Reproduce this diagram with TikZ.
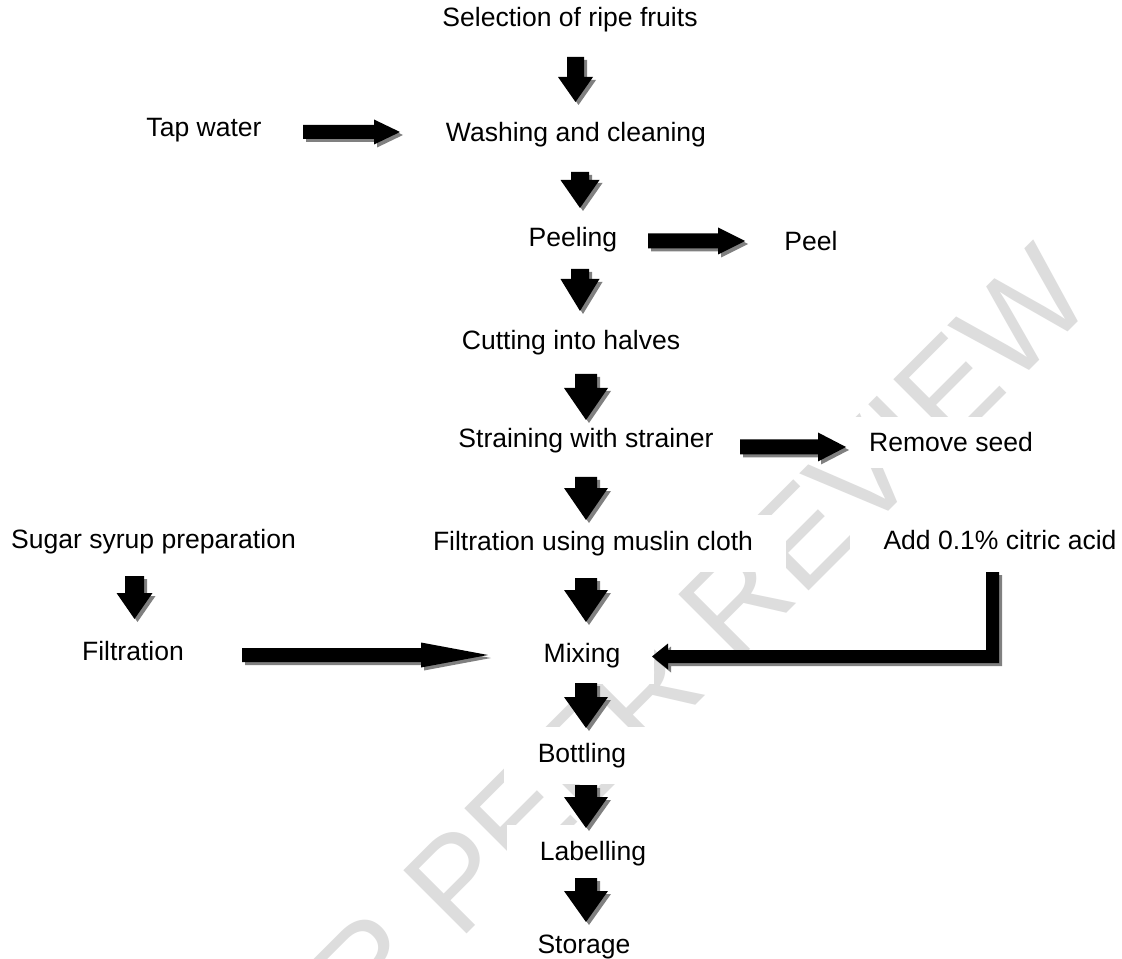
\documentclass[tikz,border=0pt]{standalone}
\usepackage{fontspec}
\setmainfont{Liberation Sans}
\definecolor{shd}{RGB}{128,128,128}
\definecolor{wm}{RGB}{221,221,221}
% block arrow polygon: #1 colour, #2 from, #3 tip, #4 shaft half, #5 head half, #6 head length, #7 ux, #8 uy, #9 offset
\newcommand\blkpoly[9]{%
 \fill[#1] ([shift={({#9-(#4)*(#8)},{#9+(#4)*(#7)})}]#2)
  -- ([shift={({#9+(#4)*(#8)},{#9-(#4)*(#7)})}]#2)
  -- ([shift={({#9-(#6)*(#7)+(#4)*(#8)},{#9-(#6)*(#8)-(#4)*(#7)})}]#3)
  -- ([shift={({#9-(#6)*(#7)+(#5)*(#8)},{#9-(#6)*(#8)-(#5)*(#7)})}]#3)
  -- ([shift={(#9,#9)}]#3)
  -- ([shift={({#9-(#6)*(#7)-(#5)*(#8)},{#9-(#6)*(#8)+(#5)*(#7)})}]#3)
  -- ([shift={({#9-(#6)*(#7)-(#4)*(#8)},{#9-(#6)*(#8)+(#4)*(#7)})}]#3)
  -- cycle;}
\newcommand\blkarrow[7]{%
 \blkpoly{shd}{#1}{#2}{#3}{#4}{#5}{#6}{#7}{3}%
 \blkpoly{black}{#1}{#2}{#3}{#4}{#5}{#6}{#7}{0}}
% elbow arrow: #1 colour, #2 offset
\newcommand\elbowpoly[2]{%
 \fill[#1] ([shift={(-6.5+#2,#2)}]cA) -- ([shift={(6.5+#2,#2)}]cA)
  -- ([shift={(6.5+#2,6.5+#2)}]cB) -- ([shift={(16+#2,6.5+#2)}]cT)
  -- ([shift={(16+#2,13+#2)}]cT) -- ([shift={(#2,#2)}]cT)
  -- ([shift={(16+#2,-13+#2)}]cT) -- ([shift={(16+#2,-6.5+#2)}]cT)
  -- ([shift={(-6.5+#2,-6.5+#2)}]cB) -- cycle;}
\begin{document}
\begin{tikzpicture}[x=0.75pt,y=-0.75pt,
  lbl/.style={font=\fontsize{19.9pt}{24pt}\selectfont, fill=white, inner xsep=25pt, inner ysep=12pt, anchor=base},
  wmtext/.style={font=\fontsize{97.5pt}{100pt}\selectfont, text=wm, rotate=45, inner sep=0pt, anchor=center}]
\useasboundingbox (0,0) rectangle (1122,959);
\clip (0,0) rectangle (1122,959);
\fill[white] (0,0) rectangle (1122,959);
% watermark
\node[wmtext] (wmk) at (637,700) {FOR PEER REVIEW};
% text nodes
\node[lbl] (sel) at (570,27) {Selection of ripe fruits};
\node[lbl] (tap) at (204,137) {Tap water};
\node[lbl] (wash) at (576,142) {Washing and cleaning};
\node[lbl] (peeling) at (573,247) {Peeling};
\node[lbl] (peel) at (811,251) {Peel};
\node[lbl] (cut) at (571,350) {Cutting into halves};
\node[lbl] (strain) at (586,448) {Straining with strainer};
\node[lbl] (seed) at (951,452) {Remove seed};
\node[lbl] (sugar) at (153.5,548) {Sugar syrup preparation};
\node[lbl] (muslin) at (593,550) {Filtration using muslin cloth};
\node[lbl] (citric) at (1000,549) {Add 0.1\% citric acid};
\node[lbl] (filt) at (133,660) {Filtration};
\node[lbl] (mix) at (582,662) {Mixing};
\node[lbl] (bott) at (582,762) {Bottling};
\node[lbl] (lab) at (593,860) {Labelling};
\node[lbl] (stor) at (584,953) {Storage};
% arrow end points
\coordinate (d1s) at (575.5,57);  \coordinate (d1e) at (575.5,102);
\coordinate (d2s) at (580,172);   \coordinate (d2e) at (580,208);
\coordinate (d3s) at (580,269);   \coordinate (d3e) at (580,311);
\coordinate (d4s) at (586,374);   \coordinate (d4e) at (586,420);
\coordinate (d5s) at (586,477);   \coordinate (d5e) at (586,520);
\coordinate (d6s) at (586,578);   \coordinate (d6e) at (586,622);
\coordinate (d7s) at (586,683);   \coordinate (d7e) at (586,728);
\coordinate (d8s) at (586,785);   \coordinate (d8e) at (586,828);
\coordinate (d9s) at (586,878);   \coordinate (d9e) at (586,922);
\coordinate (dls) at (134.5,576); \coordinate (dle) at (134.5,619);
\coordinate (r1s) at (303,132);   \coordinate (r1e) at (400,132);
\coordinate (r2s) at (648,241);   \coordinate (r2e) at (745,241);
\coordinate (r3s) at (740,447);   \coordinate (r3e) at (846,447);
\coordinate (r4s) at (242,655);   \coordinate (r4e) at (488,655);
\coordinate (cA) at (992.5,572);  \coordinate (cB) at (992.5,656.5);
\coordinate (cT) at (652,656.5);
% down arrows
\blkarrow{d1s}{d1e}{8.5}{17.5}{25}{0}{1}
\blkarrow{d2s}{d2e}{9}{19.5}{28}{0}{1}
\blkarrow{d3s}{d3e}{9}{19.5}{32}{0}{1}
\blkarrow{d4s}{d4e}{11}{22}{32}{0}{1}
\blkarrow{d5s}{d5e}{11}{22}{32}{0}{1}
\blkarrow{d6s}{d6e}{11}{22}{32}{0}{1}
\blkarrow{d7s}{d7e}{11}{22}{31}{0}{1}
\blkarrow{d8s}{d8e}{11}{22}{31}{0}{1}
\blkarrow{d9s}{d9e}{11}{22}{31}{0}{1}
\blkarrow{dls}{dle}{9.5}{18}{26}{0}{1}
% right arrows
\blkarrow{r1s}{r1e}{7}{12.5}{26}{1}{0}
\blkarrow{r2s}{r2e}{7.5}{13.5}{27}{1}{0}
\blkarrow{r3s}{r3e}{7.5}{14.5}{28}{1}{0}
\blkarrow{r4s}{r4e}{7}{12.5}{67}{1}{0}
% elbow arrow from citric acid to mixing
\elbowpoly{shd}{3}
\elbowpoly{black}{0}
\end{tikzpicture}
\end{document}
